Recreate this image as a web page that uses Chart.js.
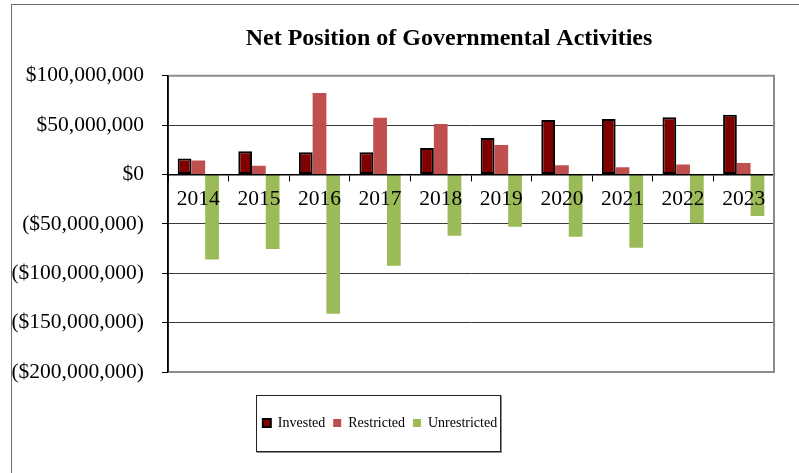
<!DOCTYPE html>
<html>
<head>
<meta charset="utf-8">
<script src="https://cdn.jsdelivr.net/npm/chart.js@4/dist/chart.umd.min.js"></script>
<style>
  html, body { margin: 0; padding: 0; background: #fff; }
  #wrap { width: 799px; height: 473px; position: relative; }
</style>
</head>
<body>
<div id="wrap"><canvas id="c" width="799" height="473"></canvas></div>
<script>
const categories = ['2014','2015','2016','2017','2018','2019','2020','2021','2022','2023'];
const invested     = [16200000, 23500000, 22500000, 22500000, 27000000, 37000000, 55200000, 56200000, 57900000, 60600000];
const restricted   = [14100000, 8800000, 82500000, 57600000, 51200000, 30000000, 9400000, 7400000, 10100000, 11800000];
const unrestricted = [-86000000, -75500000, -141000000, -92500000, -62000000, -52800000, -63000000, -74200000, -49400000, -42000000];
const yTickValues = [-200000000, -150000000, -100000000, -50000000, 0, 50000000, 100000000];
const yTickLabels = ['($200,000,000)', '($150,000,000)', '($100,000,000)', '($50,000,000)', '$0', '$50,000,000', '$100,000,000'];
const seriesNames = ['Invested', 'Restricted', 'Unrestricted'];
const titleText = 'Net Position of Governmental Activities';

const SERIF = "'Liberation Serif', 'Times New Roman', serif";

const framePlugin = {
  id: 'frames',
  afterLayout(chart) {
    const tb = chart.titleBlock;
    if (tb) { tb.left = 100; tb.right = 798; }
    const lg = chart.legend;
    if (lg) { lg.top += 36; lg.bottom += 36; lg.left -= 7; lg.right -= 7; }
  },
  beforeDraw(chart) {
    const ctx = chart.ctx;
    ctx.save();
    ctx.strokeStyle = '#6e6e6e';
    ctx.lineWidth = 1;
    ctx.strokeRect(11.5, 4.5, 900, 600);
    ctx.restore();
  },
  afterDraw(chart) {
    const ctx = chart.ctx;
    const a = chart.chartArea;
    ctx.save();
    ctx.strokeStyle = '#8c8c8c';
    ctx.lineWidth = 2;
    ctx.beginPath();
    ctx.moveTo(a.left, a.top);
    ctx.lineTo(a.right, a.top);
    ctx.lineTo(a.right, a.bottom);
    ctx.lineTo(a.left, a.bottom);
    ctx.stroke();
    ctx.strokeStyle = '#000';
    ctx.lineWidth = 1.5;
    ctx.beginPath();
    ctx.moveTo(a.left, a.top);
    ctx.lineTo(a.left, a.bottom);
    ctx.stroke();
    const lg = chart.legend;
    if (lg && lg.lineWidths) {
      const pad = lg.options.labels.padding;
      const itemsW = lg.lineWidths[0] - pad;
      const cx = (lg.left + lg.right) / 2;
      const cy = lg.top + pad + 7;
      const x0 = Math.round(cx - itemsW / 2 - 7) + 0.5;
      const x1 = Math.round(cx + itemsW / 2 + 3) + 0.5;
      const y0 = Math.round(cy - 28) + 0.5;
      const y1 = Math.round(cy + 28) + 0.5;
      ctx.strokeStyle = '#8c8c8c';
      ctx.lineWidth = 2;
      ctx.beginPath();
      ctx.moveTo(x1 + 0.5, y0);
      ctx.lineTo(x1 + 0.5, y1 + 0.5);
      ctx.lineTo(x0, y1 + 0.5);
      ctx.stroke();
      ctx.strokeStyle = '#222';
      ctx.lineWidth = 1;
      ctx.strokeRect(x0, y0, x1 - x0, y1 - y0);
    }
    ctx.restore();
  }
};

new Chart(document.getElementById('c'), {
  type: 'bar',
  data: {
    labels: categories,
    datasets: [
      { label: seriesNames[0], data: invested, backgroundColor: '#800000', borderColor: '#000000', borderWidth: 2, borderSkipped: false },
      { label: seriesNames[1], data: restricted, backgroundColor: '#C0504D', borderWidth: 0 },
      { label: seriesNames[2], data: unrestricted, backgroundColor: '#9BBB59', borderWidth: 0 }
    ]
  },
  options: {
    responsive: false,
    animation: false,
    devicePixelRatio: 1,
    layout: { padding: { top: 0, right: 25, bottom: 69, left: 0 } },
    datasets: { bar: { barPercentage: 1, categoryPercentage: 0.68 } },
    plugins: {
      title: {
        display: true,
        text: titleText,
        color: '#000',
        font: { family: SERIF, size: 24, weight: 'bold' },
        padding: { top: 24, bottom: 23 }
      },
      legend: {
        display: true,
        position: 'bottom',
        labels: {
          boxWidth: 8,
          boxHeight: 8,
          padding: 8,
          color: '#000',
          font: { family: SERIF, size: 14 }
        }
      },
      tooltip: { enabled: false }
    },
    scales: {
      x: {
        type: 'category',
        position: { y: 0 },
        offset: true,
        grid: { display: true, offset: true, drawOnChartArea: false, drawTicks: true, tickLength: 6, color: '#000', lineWidth: 1, z: 1 },
        border: { display: true, color: '#000', width: 1.5, z: 1 },
        ticks: { z: 1, color: '#000', font: { family: SERIF, size: 21.5 }, padding: 6, maxRotation: 0, autoSkip: false }
      },
      y: {
        type: 'linear',
        position: 'left',
        min: yTickValues[0],
        max: yTickValues[yTickValues.length - 1],
        afterFit(scale) { scale.width = 168; },
        afterBuildTicks(scale) { scale.ticks = yTickValues.map(v => ({ value: v })); },
        grid: {
          color: (c) => (c.tick && (c.tick.value === yTickValues[0] || c.tick.value === yTickValues[yTickValues.length - 1])) ? '#8c8c8c' : (c.tick && c.tick.value === 0 ? '#000' : '#3a3a3a'),
          tickColor: '#000',
          lineWidth: 1,
          tickLength: 6,
          drawTicks: true
        },
        border: { display: true, color: '#000', width: 1.5 },
        ticks: {
          color: '#000',
          padding: 18,
          font: { family: SERIF, size: 21.5 },
          callback: (value, index) => yTickLabels[yTickValues.indexOf(value)]
        }
      }
    }
  },
  plugins: [framePlugin]
});
</script>
</body>
</html>
